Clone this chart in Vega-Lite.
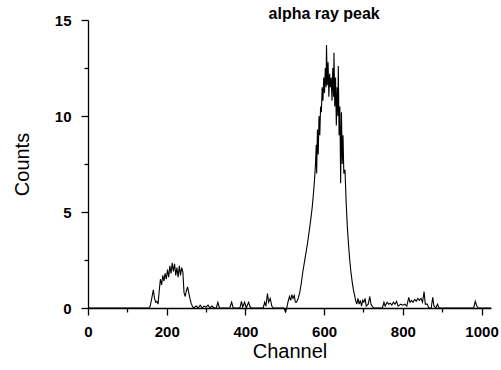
{
  "$schema": "https://vega.github.io/schema/vega-lite/v6.json",
  "width": 403,
  "height": 288,
  "autosize": {"type": "none"},
  "padding": {"left": 88, "top": 20, "right": 10, "bottom": 62},
  "background": "white",
  "config": {
    "view": {"stroke": null},
    "font": "Liberation Sans",
    "axis": {"grid": false, "domainColor": "black", "tickColor": "black", "labelColor": "black", "titleColor": "black", "labelFont": "Liberation Sans", "titleFont": "Liberation Sans", "titleFontWeight": "normal", "labelFontWeight": "bold", "domainWidth": 1.3, "tickWidth": 1.3}
  },
  "datasets": {
    "spectrum": [
      {"ch": 0, "c": 0}, {"ch": 150, "c": 0}, {"ch": 155, "c": 0}, {"ch": 158, "c": 0.1}, {"ch": 162, "c": 0.5}, {"ch": 166, "c": 0.95}, {"ch": 169, "c": 0.5}, {"ch": 172, "c": 0.3}, {"ch": 175, "c": 0.35}, {"ch": 178, "c": 0.2}, {"ch": 181, "c": 0.9}, {"ch": 184, "c": 1.5}, {"ch": 187, "c": 1.2}, {"ch": 190, "c": 1.7}, {"ch": 193, "c": 1.4}, {"ch": 196, "c": 1.8}, {"ch": 199, "c": 1.5}, {"ch": 202, "c": 2.0}, {"ch": 205, "c": 1.6}, {"ch": 208, "c": 2.2}, {"ch": 211, "c": 1.8}, {"ch": 214, "c": 2.35}, {"ch": 217, "c": 1.9}, {"ch": 220, "c": 2.3}, {"ch": 223, "c": 1.7}, {"ch": 226, "c": 2.1}, {"ch": 229, "c": 1.6}, {"ch": 232, "c": 2.2}, {"ch": 235, "c": 1.7}, {"ch": 238, "c": 2.1}, {"ch": 241, "c": 1.9}, {"ch": 244, "c": 0.8}, {"ch": 247, "c": 0.6}, {"ch": 250, "c": 0.9}, {"ch": 253, "c": 1.1}, {"ch": 256, "c": 0.8}, {"ch": 259, "c": 0.5}, {"ch": 262, "c": 0.25}, {"ch": 265, "c": 0.1}, {"ch": 268, "c": 0},
      {"ch": 275, "c": 0.1}, {"ch": 280, "c": 0}, {"ch": 285, "c": 0.15}, {"ch": 290, "c": 0}, {"ch": 295, "c": 0.1}, {"ch": 300, "c": 0.05}, {"ch": 305, "c": 0.15}, {"ch": 310, "c": 0}, {"ch": 315, "c": 0.1}, {"ch": 320, "c": 0}, {"ch": 326, "c": 0}, {"ch": 330, "c": 0.3}, {"ch": 334, "c": 0}, {"ch": 360, "c": 0}, {"ch": 365, "c": 0.3}, {"ch": 369, "c": 0}, {"ch": 386, "c": 0}, {"ch": 390, "c": 0.35}, {"ch": 393, "c": 0.05}, {"ch": 398, "c": 0.3}, {"ch": 402, "c": 0}, {"ch": 408, "c": 0.3}, {"ch": 412, "c": 0.05}, {"ch": 416, "c": 0}, {"ch": 445, "c": 0}, {"ch": 449, "c": 0.3}, {"ch": 452, "c": 0.1}, {"ch": 456, "c": 0.75}, {"ch": 459, "c": 0.3}, {"ch": 463, "c": 0.5}, {"ch": 467, "c": 0.1}, {"ch": 471, "c": 0}, {"ch": 498, "c": 0}, {"ch": 502, "c": -0.2}, {"ch": 505, "c": 0},
      {"ch": 508, "c": 0.3}, {"ch": 512, "c": 0.6}, {"ch": 515, "c": 0.4}, {"ch": 518, "c": 0.7}, {"ch": 521, "c": 0.5}, {"ch": 524, "c": 0.65}, {"ch": 527, "c": 0.3}, {"ch": 530, "c": 0.3}, {"ch": 534, "c": 0.5}, {"ch": 538, "c": 0.8}, {"ch": 542, "c": 1.3}, {"ch": 546, "c": 1.9}, {"ch": 550, "c": 2.4}, {"ch": 554, "c": 2.9}, {"ch": 558, "c": 3.4}, {"ch": 562, "c": 4.0}, {"ch": 566, "c": 4.6}, {"ch": 570, "c": 5.3}, {"ch": 573, "c": 6.0}, {"ch": 576, "c": 6.8}, {"ch": 578, "c": 7.5}, {"ch": 580, "c": 8.5}, {"ch": 581, "c": 7.0}, {"ch": 583, "c": 9.3}, {"ch": 585, "c": 8.0}, {"ch": 587, "c": 10.0}, {"ch": 589, "c": 9.0}, {"ch": 591, "c": 10.5}, {"ch": 593, "c": 10.2}, {"ch": 595, "c": 11.5}, {"ch": 597, "c": 10.8}, {"ch": 599, "c": 12.0}, {"ch": 601, "c": 11.2}, {"ch": 603, "c": 12.5}, {"ch": 605, "c": 11.5}, {"ch": 606, "c": 13.7}, {"ch": 608, "c": 11.6}, {"ch": 610, "c": 12.8}, {"ch": 612, "c": 11.0}, {"ch": 614, "c": 12.2}, {"ch": 616, "c": 11.5}, {"ch": 618, "c": 12.0}, {"ch": 620, "c": 10.8}, {"ch": 622, "c": 12.5}, {"ch": 624, "c": 11.0}, {"ch": 625, "c": 13.3}, {"ch": 627, "c": 10.5}, {"ch": 629, "c": 12.0}, {"ch": 631, "c": 9.5}, {"ch": 633, "c": 11.5}, {"ch": 635, "c": 10.0}, {"ch": 636, "c": 12.6}, {"ch": 638, "c": 9.0}, {"ch": 640, "c": 10.5}, {"ch": 642, "c": 6.5}, {"ch": 644, "c": 10.2}, {"ch": 646, "c": 7.5}, {"ch": 648, "c": 9.0}, {"ch": 650, "c": 7.0}, {"ch": 653, "c": 7.2}, {"ch": 656, "c": 5.5}, {"ch": 659, "c": 4.2}, {"ch": 662, "c": 3.3}, {"ch": 665, "c": 2.5}, {"ch": 668, "c": 1.9}, {"ch": 671, "c": 1.4}, {"ch": 674, "c": 1.0}, {"ch": 677, "c": 0.7}, {"ch": 680, "c": 0.4},
      {"ch": 683, "c": 0.2}, {"ch": 686, "c": 0.5}, {"ch": 689, "c": 0.2}, {"ch": 692, "c": 0.4}, {"ch": 695, "c": 0.1}, {"ch": 698, "c": 0.4}, {"ch": 701, "c": 0.3}, {"ch": 704, "c": 0.5}, {"ch": 707, "c": 0.1}, {"ch": 712, "c": 0.2}, {"ch": 716, "c": 0.6}, {"ch": 719, "c": 0.2}, {"ch": 722, "c": 0.1}, {"ch": 726, "c": 0}, {"ch": 748, "c": 0}, {"ch": 752, "c": 0.3}, {"ch": 755, "c": 0.1}, {"ch": 760, "c": 0.3}, {"ch": 764, "c": 0.2}, {"ch": 768, "c": 0.25}, {"ch": 772, "c": 0.15}, {"ch": 776, "c": 0.3}, {"ch": 780, "c": 0.2}, {"ch": 784, "c": 0.35}, {"ch": 788, "c": 0.1}, {"ch": 795, "c": 0.2}, {"ch": 800, "c": 0.15}, {"ch": 805, "c": 0.2}, {"ch": 810, "c": 0.1}, {"ch": 815, "c": 0.55}, {"ch": 818, "c": 0.3}, {"ch": 822, "c": 0.4}, {"ch": 826, "c": 0.3}, {"ch": 830, "c": 0.45}, {"ch": 834, "c": 0.35}, {"ch": 838, "c": 0.5}, {"ch": 842, "c": 0.4}, {"ch": 846, "c": 0.5}, {"ch": 850, "c": 0.3}, {"ch": 854, "c": 0.85}, {"ch": 857, "c": 0.2}, {"ch": 862, "c": 0.2}, {"ch": 866, "c": 0}, {"ch": 872, "c": 0}, {"ch": 876, "c": 0.55}, {"ch": 879, "c": 0.1}, {"ch": 884, "c": 0}, {"ch": 888, "c": 0.2}, {"ch": 892, "c": 0}, {"ch": 980, "c": 0}, {"ch": 984, "c": 0.35}, {"ch": 988, "c": 0.1}, {"ch": 992, "c": 0}, {"ch": 1024, "c": 0}
    ],
    "label": [{"ch": 600, "c": 15, "text": "alpha ray peak"}]
  },
  "layer": [
    {
      "data": {"name": "spectrum"},
      "mark": {"type": "line", "color": "black", "strokeWidth": 1.1, "clip": false},
      "encoding": {
        "x": {
          "field": "ch", "type": "quantitative",
          "scale": {"domain": [0, 1024], "nice": false, "zero": false},
          "axis": {
            "title": "Channel", "titleFontSize": 20, "titlePadding": 2,
            "values": [0, 100, 200, 300, 400, 500, 600, 700, 800, 900, 1000],
            "labelExpr": "datum.value % 200 === 0 ? datum.label : ''",
            "format": "d",
            "labelFontSize": 15, "labelPadding": 9,
            "tickSize": {"condition": {"test": "datum.value % 200 === 0", "value": 7}, "value": 4},
            "labelFlush": false, "labelOverlap": false
          }
        },
        "y": {
          "field": "c", "type": "quantitative",
          "scale": {"domain": [0, 15], "nice": false},
          "axis": {
            "title": "Counts", "titleFontSize": 20, "titlePadding": 22,
            "values": [0, 2.5, 5, 7.5, 10, 12.5, 15],
            "labelExpr": "datum.value % 5 === 0 ? format(datum.value, 'd') : ''",
            "labelFontSize": 15, "labelPadding": 10,
            "tickSize": {"condition": {"test": "datum.value % 5 === 0", "value": 7}, "value": 4},
            "labelOverlap": false
          }
        }
      }
    },
    {
      "data": {"name": "label"},
      "mark": {"type": "text", "font": "Liberation Sans", "fontSize": 16, "fontWeight": "bold", "color": "black", "baseline": "alphabetic", "align": "center", "dy": -1},
      "encoding": {
        "x": {"field": "ch", "type": "quantitative"},
        "y": {"field": "c", "type": "quantitative"},
        "text": {"field": "text"}
      }
    }
  ]
}
